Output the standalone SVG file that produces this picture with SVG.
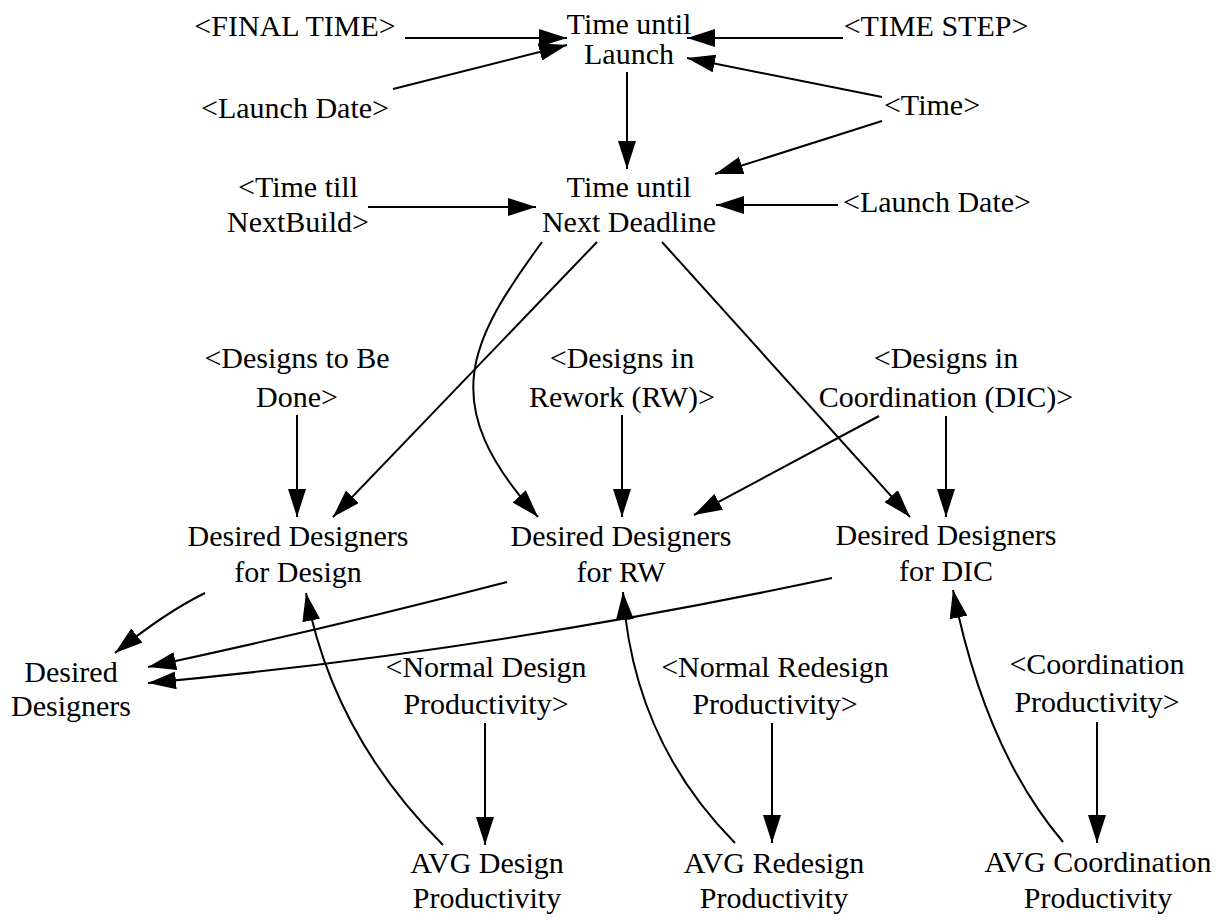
<svg xmlns="http://www.w3.org/2000/svg" width="1223" height="920" viewBox="0 0 1223 920">
  <defs>
    <marker id="arrow" markerUnits="userSpaceOnUse" markerWidth="28" markerHeight="18" refX="28" refY="9" orient="auto">
      <path d="M0,0 L28,9 L0,18 Z" fill="#000"/>
    </marker>
    <style>
      text { font-family: "Liberation Serif", "Times New Roman", serif; font-size: 30px; fill: #000; text-anchor: middle; }
      .link { fill: none; stroke: #000; stroke-width: 2; marker-end: url(#arrow); }
    </style>
  </defs>
  <rect width="1223" height="920" fill="#fff"/>

  <!-- connectors -->
  <g id="links">
    <path class="link" d="M405,38 L567,38"/>
    <path class="link" d="M393,89 L567,45"/>
    <path class="link" d="M843,38 L687,38"/>
    <path class="link" d="M882,97 L687,58"/>
    <path class="link" d="M882,121 L715,174"/>
    <path class="link" d="M627,72 L627,169"/>
    <path class="link" d="M368,207 L536,207"/>
    <path class="link" d="M838,205 L716,205"/>

    <path class="link" d="M542,242 C469,342 435,404 538,517"/>
    <path class="link" d="M597,242 L333,517"/>
    <path class="link" d="M662,242 L910,517"/>
    <path class="link" d="M879,416 L694,515"/>
    <path class="link" d="M946,416 L946,517"/>
    <path class="link" d="M297,415 L297,517"/>
    <path class="link" d="M622,415 L622,517"/>

    <path class="link" d="M205,593 Q166,612 115,653"/>
    <path class="link" d="M507,582 Q330,628 148,667"/>
    <path class="link" d="M832,578 Q490,651 148,683"/>

    <path class="link" d="M443,845 Q333,735 306,593"/>
    <path class="link" d="M735,843 Q633,740 623,592"/>
    <path class="link" d="M1063,842 Q985,750 953,590"/>

    <path class="link" d="M485,723 L485,845"/>
    <path class="link" d="M772,723 L772,843"/>
    <path class="link" d="M1097,722 L1097,843"/>
  </g>

  <!-- variables -->
  <g id="time-until-launch"><text x="629" y="34">Time until</text><text x="629" y="64">Launch</text></g>
  <g id="final-time"><text x="295" y="36">&lt;FINAL TIME&gt;</text></g>
  <g id="time-step"><text x="936" y="36">&lt;TIME STEP&gt;</text></g>
  <g id="launch-date-1"><text x="295" y="118">&lt;Launch Date&gt;</text></g>
  <g id="time"><text x="932" y="115">&lt;Time&gt;</text></g>
  <g id="time-till-next-build"><text x="298" y="197">&lt;Time till</text><text x="298" y="232">NextBuild&gt;</text></g>
  <g id="time-until-next-deadline"><text x="629" y="197">Time until</text><text x="629" y="232">Next Deadline</text></g>
  <g id="launch-date-2"><text x="937" y="212">&lt;Launch Date&gt;</text></g>

  <g id="designs-to-be-done"><text x="297" y="368">&lt;Designs to Be</text><text x="297" y="407">Done&gt;</text></g>
  <g id="designs-in-rework"><text x="622" y="368">&lt;Designs in</text><text x="622" y="407">Rework (RW)&gt;</text></g>
  <g id="designs-in-coordination"><text x="946" y="368">&lt;Designs in</text><text x="946" y="407">Coordination (DIC)&gt;</text></g>

  <g id="dd-design"><text x="298" y="546">Desired Designers</text><text x="298" y="582">for Design</text></g>
  <g id="dd-rw"><text x="621" y="546">Desired Designers</text><text x="621" y="582">for RW</text></g>
  <g id="dd-dic"><text x="946" y="545">Desired Designers</text><text x="946" y="581">for DIC</text></g>

  <g id="desired-designers"><text x="71" y="682">Desired</text><text x="71" y="716">Designers</text></g>

  <g id="normal-design-productivity"><text x="486" y="677">&lt;Normal Design</text><text x="486" y="714">Productivity&gt;</text></g>
  <g id="normal-redesign-productivity"><text x="775" y="677">&lt;Normal Redesign</text><text x="775" y="714">Productivity&gt;</text></g>
  <g id="coordination-productivity"><text x="1097" y="674">&lt;Coordination</text><text x="1097" y="712">Productivity&gt;</text></g>

  <g id="avg-design-productivity"><text x="487" y="873">AVG Design</text><text x="487" y="908">Productivity</text></g>
  <g id="avg-redesign-productivity"><text x="774" y="873">AVG Redesign</text><text x="774" y="908">Productivity</text></g>
  <g id="avg-coordination-productivity"><text x="1098" y="872">AVG Coordination</text><text x="1098" y="908">Productivity</text></g>
</svg>
